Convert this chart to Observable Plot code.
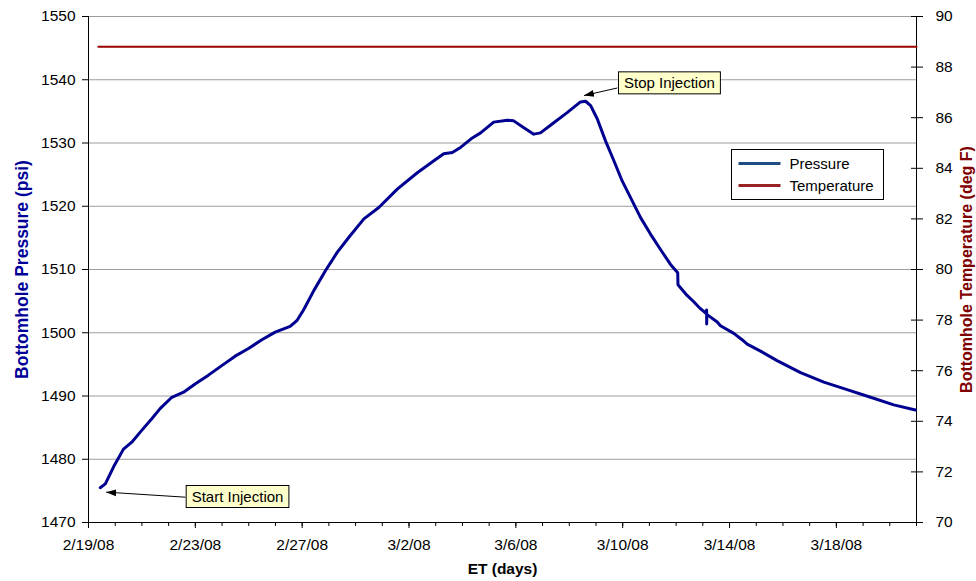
<!DOCTYPE html>
<html>
<head>
<meta charset="utf-8">
<script src="https://cdn.jsdelivr.net/npm/d3@7"></script>
<script src="https://cdn.jsdelivr.net/npm/@observablehq/plot@0.6"></script>
<style>
  html, body { margin: 0; padding: 0; background: #fff; }
  #chart svg { display: block; }
</style>
</head>
<body>
<div id="chart"></div>
<script>
// Injection test record: bottomhole pressure and temperature gauge readings.
const startDate = Date.UTC(2008, 1, 19);   // 2/19/08, origin of elapsed time
const endDay = 31;                          // axis runs to 3/21/08

// [elapsed days, bottomhole pressure psi]
const pressureReadings = [
  [0.44, 1475.5], [0.63, 1476.1], [0.94, 1478.8], [1.31, 1481.6], [1.62, 1482.7],
  [2.00, 1484.6], [2.37, 1486.4], [2.68, 1488.0], [3.12, 1489.8], [3.56, 1490.6],
  [3.99, 1491.9], [4.49, 1493.3], [4.99, 1494.8], [5.49, 1496.3], [5.99, 1497.5],
  [6.49, 1498.9], [6.99, 1500.1], [7.55, 1501.0], [7.80, 1501.9], [8.05, 1503.6],
  [8.44, 1506.7], [8.87, 1509.8], [9.31, 1512.7], [9.75, 1515.1], [10.31, 1518.0],
  [10.87, 1519.8], [11.56, 1522.7], [12.31, 1525.3], [12.93, 1527.2], [13.30, 1528.3],
  [13.62, 1528.5], [13.93, 1529.3], [14.37, 1530.8], [14.68, 1531.6], [15.17, 1533.3],
  [15.68, 1533.6], [15.92, 1533.5], [16.30, 1532.4], [16.67, 1531.4], [16.92, 1531.6],
  [17.42, 1533.2], [17.92, 1534.8], [18.42, 1536.5], [18.61, 1536.6], [18.80, 1535.9],
  [19.05, 1533.8], [19.36, 1530.3], [19.67, 1527.2], [19.98, 1524.0], [20.29, 1521.4],
  [20.67, 1518.2], [21.04, 1515.6], [21.41, 1513.2], [21.79, 1510.8], [22.06, 1509.5],
  [22.07, 1507.6], [22.41, 1505.9], [22.66, 1504.9], [22.91, 1503.8], [23.14, 1503.0],
  [23.142, 1503.6], [23.145, 1501.4], [23.148, 1502.9], [23.54, 1501.7], [23.66, 1501.1],
  [24.16, 1499.9], [24.47, 1498.9], [24.66, 1498.2], [25.16, 1497.1], [25.78, 1495.6],
  [26.66, 1493.7], [27.53, 1492.2], [28.40, 1491.0], [29.28, 1489.8], [30.15, 1488.6],
  [30.96, 1487.8]
];

// [elapsed days, bottomhole temperature deg F]
const temperatureReadings = [
  [0.37, 88.8], [5.0, 88.8], [10.0, 88.8], [15.0, 88.8], [20.0, 88.8], [25.0, 88.8], [31.0, 88.8]
];

const pressureTicks = [1470, 1480, 1490, 1500, 1510, 1520, 1530, 1540, 1550];
const temperatureTicks = [70, 72, 74, 76, 78, 80, 82, 84, 86, 88, 90];
const dateTickLabels = ["2008-02-19", "2008-02-23", "2008-02-27", "2008-03-02",
                        "2008-03-06", "2008-03-10", "2008-03-14", "2008-03-18"];

const seriesNames = ["Pressure", "Temperature"];
const lineColors = ["#000090", "#990000"];
const legendColors = ["#1F4E84", "#992222"];

// Callouts: label position and arrow from label to the curve
const callouts = [
  {label: "Start Injection", day: 5.58, psi: 1474.0, tailDay: 3.63, tailPsi: 1474.0, tipDay: 0.66, tipPsi: 1474.8},
  {label: "Stop Injection", day: 21.75, psi: 1539.4, tailDay: 19.80, tailPsi: 1538.7, tipDay: 18.55, tipPsi: 1537.5}
];

// Temperature is drawn on the pressure scale: 70–90 °F spans 1470–1550 psi
const tempToPsi = t => 1470 + (t - 70) * 4;
const psiToTemp = p => String(Math.round((p - 1470) / 4 + 70));
const dayToDate = d => new Date(startDate + d * 864e5);

const pressure = pressureReadings.map(([d, p]) => ({date: dayToDate(d), value: p}));
const temperature = temperatureReadings.map(([d, t]) => ({date: dayToDate(d), value: tempToPsi(t)}));
const xStart = dayToDate(0), xEnd = dayToDate(endDay);
const dailyTicks = d3.utcDay.range(xStart, d3.utcDay.offset(xEnd, 1));
const majorTicks = dateTickLabels.map(s => new Date(s + "T00:00:00Z"));
const fmtDate = d3.utcFormat("%-m/%-d/%y");

const chart = Plot.plot({
  width: 976,
  height: 581,
  marginLeft: 88,
  marginRight: 60,
  marginTop: 16,
  marginBottom: 59,
  style: {fontFamily: "'Liberation Sans', Arial, sans-serif", fontSize: "15.5px", color: "#000", background: "#fff"},
  x: {type: "utc", domain: [xStart, xEnd]},
  y: {domain: [1470, 1550]},
  marks: [
    Plot.ruleY(pressureTicks.filter(v => v > 1470), {stroke: "#9c9c9c", strokeWidth: 1}),
    Plot.ruleX([xStart, xEnd], {stroke: "#000", strokeWidth: 1}),
    Plot.ruleY([1470], {stroke: "#000", strokeWidth: 1}),
    Plot.axisY(pressureTicks, {anchor: "left", tickSize: 6, tickPadding: 7, label: null,
      tickFormat: d => String(d)}),
    Plot.axisY(temperatureTicks.map(tempToPsi), {anchor: "right", tickSize: 12, dx: -6, tickPadding: 13,
      tickFormat: psiToTemp, label: null}),
    Plot.axisX(dailyTicks, {tickSize: 4, tickFormat: () => "", label: null}),
    Plot.axisX(majorTicks, {tickSize: 6, tickPadding: 10, tickFormat: fmtDate, label: null}),
    Plot.line(temperature, {x: "date", y: "value", stroke: lineColors[1], strokeWidth: 2}),
    Plot.line(pressure, {x: "date", y: "value", stroke: lineColors[0], strokeWidth: 3,
      strokeLinejoin: "round", strokeLinecap: "round"}),
    Plot.link(callouts, {x1: d => dayToDate(d.tailDay), y1: "tailPsi", x2: d => dayToDate(d.tipDay), y2: "tipPsi",
      stroke: "#000", strokeWidth: 1}),
    Plot.text(callouts, {x: d => dayToDate(d.day), y: "psi", text: "label", fontSize: 15, fill: "#000"}),
    Plot.text(["Bottomhole Pressure (psi)"], {text: d => d, frameAnchor: "left", dx: -66, rotate: -90,
      textAnchor: "middle", fill: "#000099", fontWeight: "bold", fontSize: 17.5}),
    Plot.text(["Bottomhole Temperature (deg F)"], {text: d => d, frameAnchor: "right", dx: 50, rotate: -90,
      textAnchor: "middle", fill: "#800000", fontWeight: "bold", fontSize: 16}),
    Plot.text(["ET (days)"], {text: d => d, frameAnchor: "bottom", dy: 51,
      textAnchor: "middle", fill: "#000", fontWeight: "bold", fontSize: 15.5})
  ]
});

document.getElementById("chart").appendChild(chart);

const svg = d3.select(chart);
const calloutLabels = new Set(callouts.map(d => d.label));

// Filled arrowheads for the callout leaders
svg.append("defs").append("marker")
  .attr("id", "callout-head")
  .attr("viewBox", "-10 -5 10 10")
  .attr("markerWidth", 10).attr("markerHeight", 10)
  .attr("markerUnits", "userSpaceOnUse")
  .attr("orient", "auto")
  .append("path").attr("d", "M-10,-3.5L0,0L-10,3.5Z").attr("fill", "#000");
svg.selectAll('g[aria-label="link"] path, g[aria-label="link"] line')
  .attr("marker-end", "url(#callout-head)");

// Pale yellow boxes behind the callout labels
svg.selectAll("text").filter(function () { return calloutLabels.has(this.textContent); }).each(function () {
  const b = this.getBBox();
  const t = this.getAttribute("transform");
  const box = document.createElementNS("http://www.w3.org/2000/svg", "rect");
  if (t) box.setAttribute("transform", t);
  box.setAttribute("x", b.x - 5.5);
  box.setAttribute("y", b.y - 2.5);
  box.setAttribute("width", b.width + 11);
  box.setAttribute("height", b.height + 5);
  box.setAttribute("fill", "#FFFFCC");
  box.setAttribute("stroke", "#000");
  box.setAttribute("stroke-width", 1);
  this.parentNode.insertBefore(box, this);
});

// Series key inside the plot area
const key = svg.append("g").attr("transform", "translate(731.5,149.5)")
  .attr("text-anchor", "start")
  .style("font-family", "'Liberation Sans', Arial, sans-serif").style("font-size", "15px");
key.append("rect").attr("width", 152).attr("height", 50)
  .attr("fill", "#fff").attr("stroke", "#000").attr("stroke-width", 1);
seriesNames.forEach((name, i) => {
  const y = 14 + i * 22;
  key.append("line").attr("x1", 7).attr("x2", 49).attr("y1", y).attr("y2", y)
    .attr("stroke", legendColors[i]).attr("stroke-width", 3);
  key.append("text").attr("x", 58).attr("y", y).attr("dy", "0.35em")
    .attr("text-anchor", "start").attr("fill", "#000").text(name);
});
</script>
</body>
</html>
